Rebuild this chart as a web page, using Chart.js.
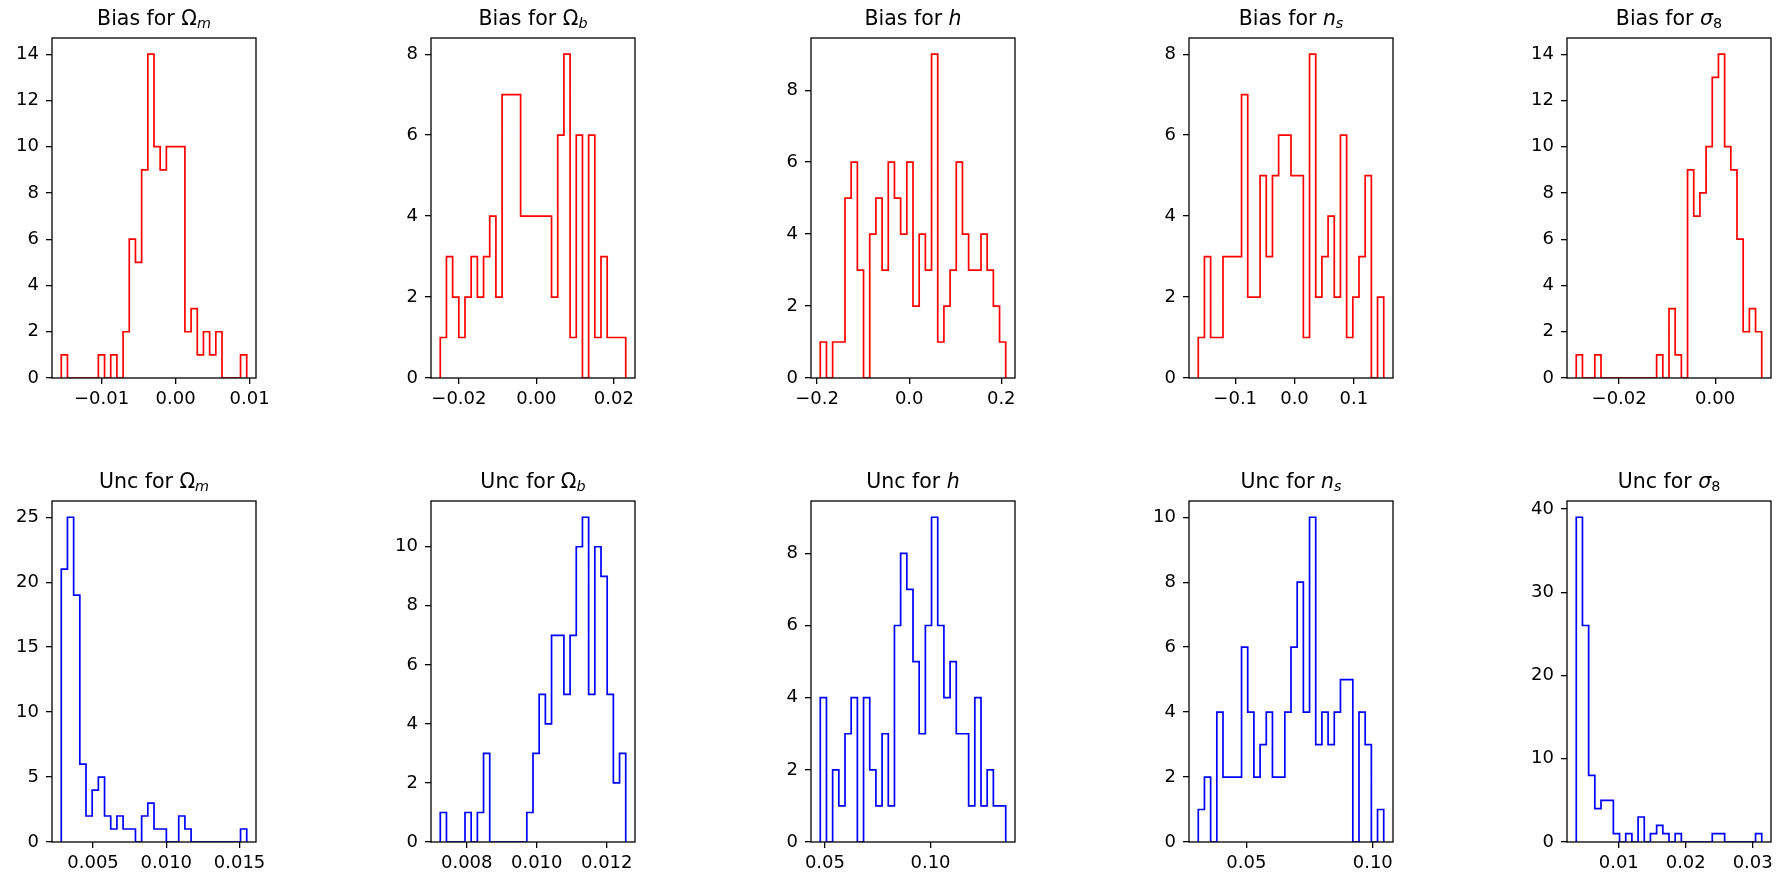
<!DOCTYPE html>
<html>
<head>
<meta charset="utf-8">
<script src="https://cdn.jsdelivr.net/npm/chart.js@4.4.1/dist/chart.umd.min.js"></script>
<style>
html,body{margin:0;padding:0;background:#fff;width:1776px;height:875px;overflow:hidden;}
canvas.panel{position:absolute;}
</style>
</head>
<body>
<script>
// ---------------- DATA ----------------
// Each histogram: 30 equal bins between the given [first edge, last edge]
const binCount = 30;

// Top row: Bias
const biasOmegaMTitle  = [["Bias for ", "r"], ["Ω", "r"], ["m", "is"]];
const biasOmegaMRange  = [-0.01545, 0.00962];
const biasOmegaMCounts = [1,0,0,0,0,0,1,0,1,0,2,6,5,9,14,10,9,10,10,10,2,3,1,2,1,2,0,0,0,1];
const biasOmegaMXTicks = ["−0.01", "0.00", "0.01"];
const biasOmegaMYTicks = ["0","2","4","6","8","10","12","14"];

const biasOmegaBTitle  = [["Bias for ", "r"], ["Ω", "r"], ["b", "is"]];
const biasOmegaBRange  = [-0.02481, 0.02306];
const biasOmegaBCounts = [1,3,2,1,2,3,2,3,4,2,7,7,7,4,4,4,4,4,2,6,8,1,6,0,6,1,3,1,1,1];
const biasOmegaBXTicks = ["−0.02", "0.00", "0.02"];
const biasOmegaBYTicks = ["0","2","4","6","8"];

const biasHTitle  = [["Bias for ", "r"], ["h", "i"]];
const biasHRange  = [-0.1932, 0.2097];
const biasHCounts = [1,0,1,1,5,6,3,0,4,5,3,6,5,4,6,2,4,3,9,1,2,3,6,4,3,3,4,3,2,1];
const biasHXTicks = ["−0.2", "0.0", "0.2"];
const biasHYTicks = ["0","2","4","6","8"];

const biasNsTitle  = [["Bias for ", "r"], ["n", "i"], ["s", "is"]];
const biasNsRange  = [-0.1623, 0.1505];
const biasNsCounts = [1,3,1,1,3,3,3,7,2,2,5,3,5,6,6,5,5,1,8,2,3,4,2,6,1,2,3,5,0,2];
const biasNsXTicks = ["−0.1", "0.0", "0.1"];
const biasNsYTicks = ["0","2","4","6","8"];

const biasSigma8Title  = [["Bias for ", "r"], ["σ", "i"], ["8", "rs"]];
const biasSigma8Range  = [-0.02893, 0.00970];
const biasSigma8Counts = [1,0,0,1,0,0,0,0,0,0,0,0,0,1,0,3,1,0,9,7,8,10,13,14,10,9,6,2,3,2];
const biasSigma8XTicks = ["−0.02", "0.00"];
const biasSigma8YTicks = ["0","2","4","6","8","10","12","14"];

// Bottom row: Unc
const uncOmegaMTitle  = [["Unc for ", "r"], ["Ω", "r"], ["m", "is"]];
const uncOmegaMRange  = [0.002833, 0.015489];
const uncOmegaMCounts = [21,25,19,6,2,4,5,2,1,2,1,1,0,2,3,1,1,0,0,2,1,0,0,0,0,0,0,0,0,1];
const uncOmegaMXTicks = ["0.005", "0.010", "0.015"];
const uncOmegaMYTicks = ["0","5","10","15","20","25"];

const uncOmegaBTitle  = [["Unc for ", "r"], ["Ω", "r"], ["b", "is"]];
const uncOmegaBRange  = [0.007244, 0.012543];
const uncOmegaBCounts = [1,0,0,0,1,0,1,3,0,0,0,0,0,0,1,3,5,4,7,7,5,7,10,11,5,10,9,5,2,3];
const uncOmegaBXTicks = ["0.008", "0.010", "0.012"];
const uncOmegaBYTicks = ["0","2","4","6","8","10"];

const uncHTitle  = [["Unc for ", "r"], ["h", "i"]];
const uncHRange  = [0.0478, 0.1356];
const uncHCounts = [4,0,2,1,3,4,0,4,2,1,3,1,6,8,7,5,3,6,9,6,4,5,3,3,1,4,1,2,1,1];
const uncHXTicks = ["0.05", "0.10"];
const uncHYTicks = ["0","2","4","6","8"];

const uncNsTitle  = [["Unc for ", "r"], ["n", "i"], ["s", "is"]];
const uncNsRange  = [0.0310, 0.10434];
const uncNsCounts = [1,2,0,4,2,2,2,6,4,2,3,4,2,2,4,6,8,4,10,3,4,3,4,5,5,0,4,3,0,1];
const uncNsXTicks = ["0.05", "0.10"];
const uncNsYTicks = ["0","2","4","6","8","10"];

const uncSigma8Title  = [["Unc for ", "r"], ["σ", "i"], ["8", "rs"]];
const uncSigma8Range  = [0.00365, 0.03135];
const uncSigma8Counts = [39,26,8,4,5,5,1,0,1,0,3,0,1,2,1,0,1,0,0,0,0,0,1,1,0,0,0,0,0,1];
const uncSigma8XTicks = ["0.01", "0.02", "0.03"];
const uncSigma8YTicks = ["0","10","20","30","40"];

// ---------------- LAYOUT / STYLE ----------------
const FONT = '"DejaVu Sans"';
const TICK_SIZE = 18;
const TITLE_SIZE = 20.5;
const TICK_LEN = 6;
const TICK_PAD = 7;
const LINE_W = 1.7;
const SPINE_W = 1.3;
const FRAME_W = 204;
const frameLefts = [52, 431, 811, 1189, 1567];
const rowFrames = [ {top: 38, height: 340}, {top: 501, height: 341} ];
const PAD_L = 52, PAD_R = 30, PAD_T = 38;
const PAD_B = [34, 33];
const rowColors = ['#ff0000', '#0000ff'];

const panels = [
  [biasOmegaMTitle, biasOmegaMRange, biasOmegaMCounts, biasOmegaMXTicks, biasOmegaMYTicks],
  [biasOmegaBTitle, biasOmegaBRange, biasOmegaBCounts, biasOmegaBXTicks, biasOmegaBYTicks],
  [biasHTitle, biasHRange, biasHCounts, biasHXTicks, biasHYTicks],
  [biasNsTitle, biasNsRange, biasNsCounts, biasNsXTicks, biasNsYTicks],
  [biasSigma8Title, biasSigma8Range, biasSigma8Counts, biasSigma8XTicks, biasSigma8YTicks],
  [uncOmegaMTitle, uncOmegaMRange, uncOmegaMCounts, uncOmegaMXTicks, uncOmegaMYTicks],
  [uncOmegaBTitle, uncOmegaBRange, uncOmegaBCounts, uncOmegaBXTicks, uncOmegaBYTicks],
  [uncHTitle, uncHRange, uncHCounts, uncHXTicks, uncHYTicks],
  [uncNsTitle, uncNsRange, uncNsCounts, uncNsXTicks, uncNsYTicks],
  [uncSigma8Title, uncSigma8Range, uncSigma8Counts, uncSigma8XTicks, uncSigma8YTicks]
];

const labelValue = s => Number(String(s).replace('−', '-'));

// Frame (all four spines), drawn on top of the data like matplotlib
const framePlugin = {
  id: 'frame',
  afterDatasetsDraw(chart) {
    const {ctx, chartArea: ca} = chart;
    ctx.save();
    ctx.strokeStyle = '#000';
    ctx.lineWidth = SPINE_W;
    ctx.strokeRect(ca.left, ca.top, ca.right - ca.left, ca.bottom - ca.top);
    ctx.restore();
  }
};

// Title with math-style italics and subscripts
const mathTitlePlugin = {
  id: 'mathTitle',
  afterDraw(chart, args, opts) {
    const {ctx, chartArea: ca} = chart;
    const size = opts.size;
    const parts = [];
    let total = 0;
    for (const [text, style] of opts.pieces) {
      const sub = style.endsWith('s');
      const ital = style.startsWith('i');
      const fs = sub ? size * 0.7 : size;
      const font = (ital ? 'italic ' : '') + fs + 'px ' + FONT;
      ctx.font = font;
      const w = ctx.measureText(text).width;
      parts.push({text, font, w, sub});
      total += w;
    }
    let x = (ca.left + ca.right) / 2 - total / 2;
    const y = ca.top - opts.gap;
    ctx.save();
    ctx.fillStyle = '#000';
    ctx.textAlign = 'left';
    ctx.textBaseline = 'alphabetic';
    for (const p of parts) {
      ctx.font = p.font;
      ctx.fillText(p.text, x, y + (p.sub ? size * 0.16 : 0));
      x += p.w;
    }
    ctx.restore();
  }
};

panels.forEach((p, i) => {
  const [title, range, counts, xTicks, yTicks] = p;
  const row = i < 5 ? 0 : 1;
  const col = i % 5;
  const fr = rowFrames[row];
  const padB = PAD_B[row];
  const cw = PAD_L + FRAME_W + PAD_R;
  const chh = PAD_T + fr.height + padB;

  const canvas = document.createElement('canvas');
  canvas.className = 'panel';
  canvas.width = cw; canvas.height = chh;
  canvas.style.left = (frameLefts[col] - PAD_L) + 'px';
  canvas.style.top = (fr.top - PAD_T) + 'px';
  canvas.style.width = cw + 'px'; canvas.style.height = chh + 'px';
  document.body.appendChild(canvas);

  const [lo, hi] = range;
  const bw = (hi - lo) / binCount;
  const pts = [{x: lo, y: 0}];
  counts.forEach((c, k) => pts.push({x: lo + k * bw, y: c}));
  pts.push({x: hi, y: 0});

  const span = hi - lo;
  const ymax = Math.max(...counts) * 1.05;
  const xVals = xTicks.map(labelValue);
  const yVals = yTicks.map(labelValue);

  const tickFont = {family: FONT, size: TICK_SIZE};
  const gridOpts = {display: true, drawOnChartArea: false, drawTicks: true,
                    tickLength: TICK_LEN, color: '#000', lineWidth: SPINE_W};

  new Chart(canvas, {
    type: 'line',
    data: {
      datasets: [{
        data: pts,
        borderColor: rowColors[row],
        borderWidth: LINE_W,
        stepped: 'before',
        pointRadius: 0,
        fill: false,
        tension: 0,
        borderJoinStyle: 'miter',
        borderCapStyle: 'butt'
      }]
    },
    options: {
      responsive: false,
      animation: false,
      events: [],
      devicePixelRatio: 1,
      layout: {padding: {left: 0, top: PAD_T, right: PAD_R, bottom: 0}},
      plugins: {
        legend: {display: false},
        tooltip: {enabled: false},
        title: {display: false},
        mathTitle: {pieces: title, size: TITLE_SIZE, gap: 13}
      },
      scales: {
        x: {
          type: 'linear',
          min: lo - 0.05 * span,
          max: hi + 0.05 * span,
          afterBuildTicks: s => { s.ticks = xVals.map(v => ({value: v})); },
          afterFit: s => { s.height = padB; s.paddingLeft = 0; s.paddingRight = 0; },
          ticks: {
            callback: (v, idx) => xTicks[idx],
            font: tickFont, color: '#000', padding: TICK_PAD - 2,
            maxRotation: 0, minRotation: 0, autoSkip: false
          },
          grid: gridOpts,
          border: {display: false}
        },
        y: {
          type: 'linear',
          min: 0,
          max: ymax,
          afterBuildTicks: s => { s.ticks = yVals.map(v => ({value: v})); },
          afterFit: s => { s.width = PAD_L; s.paddingTop = 0; s.paddingBottom = 0; },
          ticks: {
            callback: (v, idx) => yTicks[idx],
            font: tickFont, color: '#000', padding: TICK_PAD, autoSkip: false
          },
          grid: gridOpts,
          border: {display: false}
        }
      }
    },
    plugins: [framePlugin, mathTitlePlugin]
  });
});
</script>
</body>
</html>
